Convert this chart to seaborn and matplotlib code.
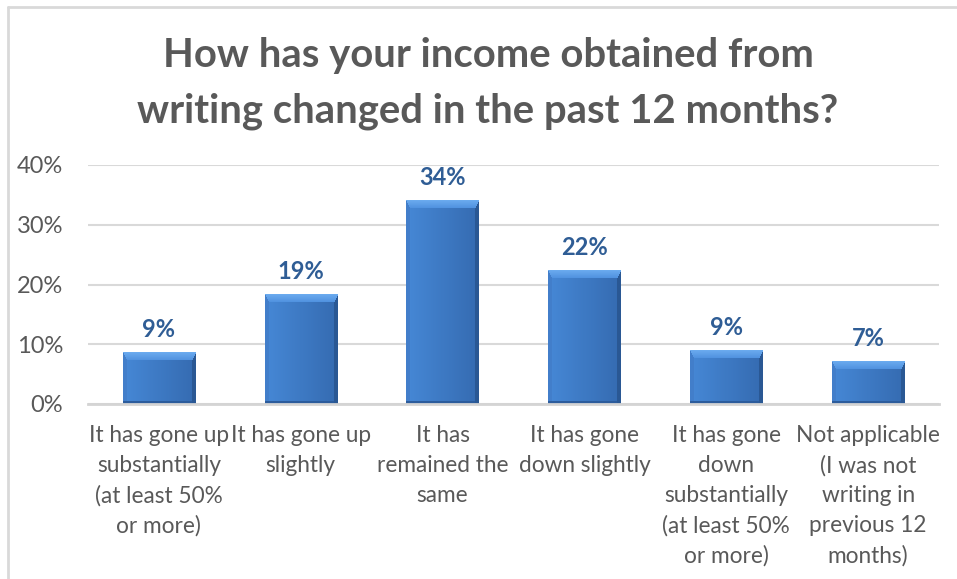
import numpy as np
import pandas as pd
import matplotlib
matplotlib.use("Agg")
import matplotlib.pyplot as plt
import seaborn as sns
from matplotlib.lines import Line2D
from matplotlib.ticker import PercentFormatter, MultipleLocator

categories = [
    "It has gone up\nsubstantially\n(at least 50%\nor more)",
    "It has gone up\nslightly",
    "It has\nremained the\nsame",
    "It has gone\ndown slightly",
    "It has gone\ndown\nsubstantially\n(at least 50%\nor more)",
    "Not applicable\n(I was not\nwriting in\nprevious 12\nmonths)",
]
values = [8.7, 18.4, 34.1, 22.4, 9.0, 7.1]
labels = ["9%", "19%", "34%", "22%", "9%", "7%"]
title_lines = ["How has your income obtained from",
               "writing changed in the past 12 months?"]

sns.set_theme(style="white")
plt.rcParams["font.family"] = ["Lato", "DejaVu Sans"]

W_PX, H_PX = 957, 579
fig = plt.figure(figsize=(W_PX / 100, H_PX / 100), dpi=100)
fig.patch.set_facecolor("white")
ax = fig.add_axes([88 / W_PX, 1 - 404 / H_PX, (939 - 88) / W_PX, (404 - 165) / H_PX])

df = pd.DataFrame({"cat": categories, "val": values})
sns.barplot(data=df, x="cat", y="val", ax=ax, color="#3C78C3", width=0.51,
            saturation=1, edgecolor="none", errorbar=None)

ax.set_ylim(0, 40)
ax.set_xlim(-0.5, 5.5)
ax.yaxis.set_major_locator(MultipleLocator(10))
ax.yaxis.set_major_formatter(PercentFormatter(decimals=0))
ax.grid(axis="y", color="#D9D9D9", lw=1.5)
ax.grid(axis="x", visible=False)
ax.set_axisbelow(True)
for s in ["top", "right", "left"]:
    ax.spines[s].set_visible(False)
ax.spines["bottom"].set_color("#D4D4D4")
ax.spines["bottom"].set_linewidth(2)
ax.tick_params(axis="y", length=0, labelsize=17, labelcolor="#595959", pad=18)
ax.tick_params(axis="x", length=0, labelsize=16.3, labelcolor="#595959", pad=15)
for t in ax.get_xticklabels():
    t.set_multialignment("center")
    t.set_linespacing(1.52)
ax.set_xlabel("")
ax.set_ylabel("")


def bar_img(W, H):
    W = max(W, 2); H = max(H, 2)
    light = np.array([0x46, 0x88, 0xD6]) / 255
    dark = np.array([0x35, 0x6B, 0xB1]) / 255
    t = np.linspace(0, 1, W)[None, :, None]
    img = np.ones((H, W, 3)) * (light * (1 - t) + dark * t)
    bt, bs = 8, 4
    top_hi = np.array([0x6A, 0xAA, 0xEE]) / 255
    top_lo = np.array([0x4E, 0x90, 0xDE]) / 255
    left_col = np.array([0x42, 0x7E, 0xCA]) / 255
    right_col = np.array([0x2A, 0x58, 0x94]) / 255
    bot_col = np.array([0x2C, 0x5C, 0x9C]) / 255
    for r in range(H):
        for c in range(W):
            if r < bt and c >= r * bs / bt and c < W - r * bs / bt:
                f = r / bt
                img[r, c] = top_hi * (1 - f) + top_lo * f
            elif c < bs and r < H - 3:
                img[r, c] = left_col
            elif c >= W - bs:
                img[r, c] = right_col
            elif r >= H - 3:
                img[r, c] = bot_col
    return img


fig.canvas.draw()
for p, lab in zip(ax.patches, labels):
    x0, y0 = p.get_x(), p.get_y()
    w, h = p.get_width(), p.get_height()
    (px0, py0), (px1, py1) = ax.transData.transform([(x0, y0), (x0 + w, y0 + h)])
    img = bar_img(int(round(px1 - px0)), int(round(py1 - py0)))
    p.set_visible(False)
    ax.imshow(img, extent=(x0, x0 + w, y0, y0 + h), aspect="auto",
              zorder=p.get_zorder() + 0.1, interpolation="nearest")
    ax.annotate(lab, (x0 + w / 2, h), xytext=(0, 8), textcoords="offset points",
                ha="center", va="bottom", fontsize=17, fontweight="bold",
                color="#2F5D95")

ax.set_ylim(0, 40)
ax.set_xlim(-0.5, 5.5)

for line, yc in zip(title_lines, [56, 111]):
    fig.text(488 / W_PX, 1 - yc / H_PX, line, ha="center", va="center",
             fontsize=28.8, fontweight="bold", color="#595959")

fig.add_artist(Line2D([8 / W_PX, 8 / W_PX], [0, 1 - 7 / H_PX], transform=fig.transFigure,
                      color="#D9D9D9", lw=2))
fig.add_artist(Line2D([8 / W_PX, 1], [1 - 7 / H_PX, 1 - 7 / H_PX], transform=fig.transFigure,
                      color="#D9D9D9", lw=2))

fig.savefig("out.png", dpi=100)
